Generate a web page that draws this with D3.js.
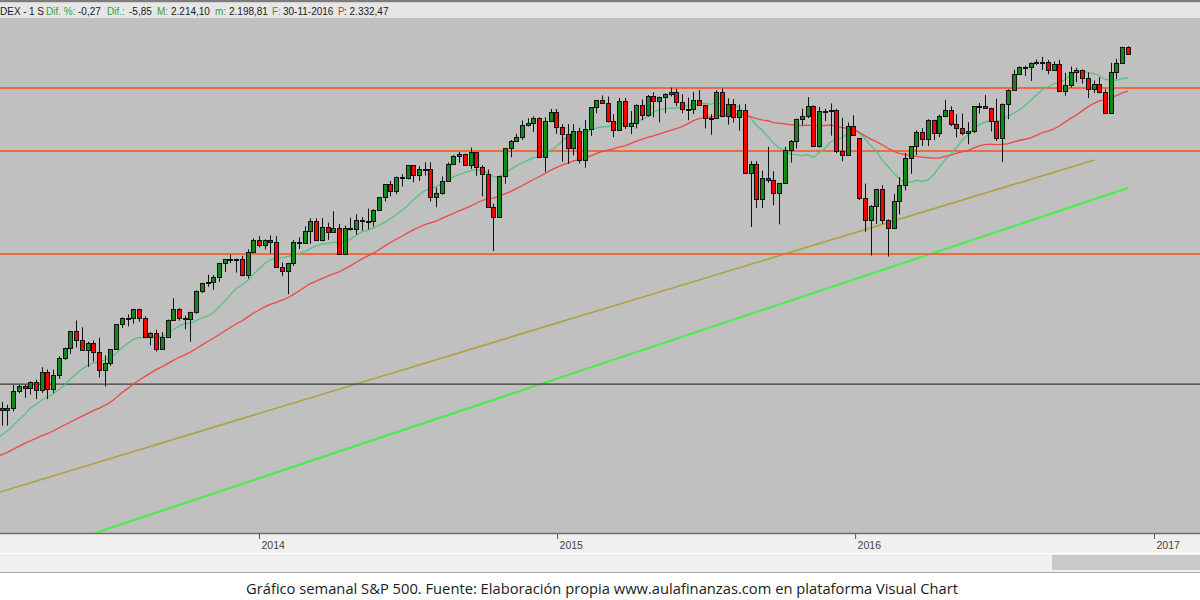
<!DOCTYPE html>
<html><head><meta charset="utf-8">
<script src="https://cdn.jsdelivr.net/npm/d3@7"></script>
<style>body{margin:0;background:#fff;} svg{display:block}</style>
</head><body>
<svg id="chart" width="1200" height="600"></svg>
<script>
// ---------------- DATA ----------------
// weekly S&P 500 candles, first visible week starts Monday 2013-02-18
const firstWeekMonday = "2013-02-18";
// closes of the weeks before the first visible candle (May 2012 - Feb 2013), for the moving averages
const warmupCloses = [1317.8,1278.0,1325.7,1342.8,1335.0,1362.2,
  1354.7,1356.8,1362.7,1386.0,1391.0,1405.9,1418.2,1411.1,1406.6,1437.9,
  1465.8,1460.2,1440.7,1460.9,1428.6,1433.2,1411.9,1414.2,1379.9,1359.9,
  1409.2,1416.2,1418.1,1413.6,1430.2,1402.4,1466.5,1472.1,1486.0,1503.0,
  1513.2,1517.9,1519.8];

const open = [
  // 2013
  1519.8,1515.6,1518.2,1551.2,1560.7,1556.9,1569.2,1553.3,1588.9,1555.3,
  1582.2,1614.4,1633.7,1667.5,1649.6,1630.7,1643.4,1626.7,1592.4,1606.3,
  1631.9,1680.2,1692.1,1691.7,1709.7,1691.4,1655.8,1663.5,1633.0,1655.2,
  1688.0,1709.9,1691.8,1690.5,1703.2,1744.5,1759.8,1761.6,1770.6,1798.2,
  1804.8,1805.8,1805.1,1775.3,1818.3,
  // 2014
  1841.4,1831.4,1842.4,1838.7,1790.3,1782.6,1797.0,1838.6,1836.3,1859.5,
  1878.0,1841.1,1866.5,1857.6,1865.1,1815.7,1864.9,1863.4,1881.1,1878.5,
  1877.9,1900.5,1923.6,1949.4,1936.2,1962.9,1961.0,1985.4,1967.6,1978.2,
  1978.3,1925.2,1931.6,1955.1,1988.4,2003.4,2007.7,1985.5,2010.4,1982.9,
  1967.9,1906.1,1886.8,1964.6,2018.0,2031.9,2039.8,2063.5,2067.6,2075.4,
  2002.3,2070.7,
  // 2015
  2088.8,2058.2,2044.8,2019.4,2051.8,1995.0,2055.5,2097.0,2110.3,2104.5,
  2071.3,2053.4,2108.1,2061.0,2067.0,2102.1,2081.2,2117.7,2108.3,2116.1,
  2122.7,2126.1,2107.4,2092.8,2094.1,2110.0,2101.5,2076.8,2076.6,2126.6,
  2079.7,2103.8,2077.6,2091.5,1970.9,1988.9,1921.2,1961.0,1958.0,1931.3,
  1951.4,2014.9,2033.1,2075.1,2079.4,2099.2,2023.0,2089.2,2090.1,2091.7,
  2012.4,2005.6,2061.0,
  // 2016
  2038.2,1922.0,1880.3,1906.9,1940.2,1880.0,1864.8,1917.8,1948.1,2000.0,
  2022.2,2049.6,2035.9,2072.8,2047.6,2080.7,2091.6,2065.3,2057.1,2046.6,
  2052.3,2099.1,2099.1,2096.1,2071.2,2037.4,2103.0,2129.9,2161.7,2175.0,
  2173.6,2182.9,2184.0,2183.9,2169.0,2180.0,2127.8,2139.2,2164.7,2168.3,
  2153.7,2133.0,2141.2,2126.4,2085.2,2164.5,2181.9,2213.4];

const high = [
  // 2013
  1530.9,1525.3,1563.3,1563.6,1564.0,1570.3,1573.7,1597.4,1593.0,1592.6,
  1618.5,1635.0,1667.5,1687.2,1674.2,1646.5,1648.7,1654.2,1620.1,1632.1,
  1680.2,1693.1,1698.8,1709.7,1709.7,1695.0,1664.9,1669.5,1664.8,1689.0,
  1729.9,1711.0,1696.5,1704.0,1745.0,1759.8,1775.2,1774.5,1798.2,1804.8,
  1813.5,1806.0,1811.5,1823.8,1844.9,
  // 2014
  1849.4,1843.2,1850.8,1849.3,1798.8,1798.0,1841.6,1846.9,1867.9,1883.6,
  1883.6,1883.9,1875.2,1897.3,1872.6,1869.6,1884.9,1891.3,1886.0,1902.2,
  1901.3,1924.0,1949.4,1955.6,1963.9,1968.2,1985.6,1985.6,1983.9,1991.4,
  1991.4,1942.9,1964.0,1991.0,2005.0,2011.2,2008.0,2019.3,2010.4,1985.2,
  1977.4,1912.0,1965.3,2018.2,2034.3,2046.2,2071.5,2075.8,2079.5,2077.8,
  2077.9,2093.6,
  // 2015
  2093.6,2064.4,2064.4,2064.6,2057.6,2072.4,2097.0,2110.6,2119.6,2117.5,
  2083.5,2114.9,2114.9,2089.8,2102.6,2111.9,2120.5,2125.9,2117.7,2123.9,
  2134.7,2132.2,2121.9,2115.4,2126.6,2129.9,2101.5,2083.7,2129.6,2132.8,
  2114.2,2112.7,2102.5,2103.5,1993.5,1993.5,1975.0,2020.9,1974.0,1951.4,
  2020.9,2034.0,2075.1,2094.3,2116.5,2100.7,2097.9,2094.1,2104.3,2093.8,
  2076.7,2067.7,2081.6,
  // 2016
  2038.2,1950.3,1908.9,1940.2,1947.2,1881.6,1930.7,1962.9,2009.1,2022.5,
  2052.4,2056.6,2074.0,2073.0,2083.0,2111.1,2099.1,2083.4,2084.9,2068.2,
  2099.1,2105.3,2120.6,2096.1,2113.3,2104.1,2131.7,2169.1,2175.6,2177.1,
  2182.9,2188.5,2193.8,2187.9,2184.9,2187.9,2163.3,2175.3,2172.7,2169.6,
  2163.9,2148.4,2154.8,2131.8,2182.3,2189.9,2213.4,2214.1];

const low = [
  // 2013
  1485.0,1485.0,1512.3,1547.4,1538.6,1545.1,1536.0,1548.0,1536.0,1548.0,
  1575.0,1611.0,1623.0,1635.5,1630.5,1598.2,1608.1,1577.7,1560.3,1600.0,
  1631.0,1673.0,1676.0,1681.0,1684.9,1654.2,1639.4,1627.5,1633.0,1655.2,
  1687.0,1687.1,1670.4,1646.5,1700.0,1740.0,1752.0,1746.2,1761.6,1780.5,
  1797.5,1779.1,1772.3,1767.9,1818.3,
  // 2014
  1827.7,1823.7,1815.8,1790.0,1772.3,1737.9,1791.8,1824.6,1834.4,1834.4,
  1839.6,1839.5,1842.1,1856.7,1814.4,1815.7,1859.7,1851.9,1859.8,1862.4,
  1868.1,1900.5,1915.9,1925.8,1930.0,1944.7,1958.2,1952.9,1955.6,1965.8,
  1916.0,1904.8,1928.9,1955.1,1988.4,1990.0,1985.2,1978.5,1965.2,1926.0,
  1905.0,1820.7,1886.8,1950.0,2001.0,2030.4,2034.5,2060.0,2049.6,2002.3,
  1972.6,2069.2,
  // 2015
  2046.1,1992.4,1988.1,2004.5,1989.2,1980.9,2041.9,2085.4,2103.8,2067.3,
  2039.7,2052.1,2055.4,2045.5,2056.3,2072.4,2079.0,2077.5,2067.9,2085.6,
  2117.9,2099.1,2085.7,2072.1,2084.0,2101.0,2056.3,2044.0,2076.6,2077.9,
  2063.5,2067.9,2052.1,1970.9,1867.0,1903.1,1903.4,1952.0,1908.8,1871.9,
  1951.4,1990.7,2018.0,2063.0,2076.0,2022.0,2019.4,2070.3,2042.4,2008.9,
  1993.3,2005.0,2043.6,
  // 2016
  1918.5,1857.8,1812.3,1872.7,1872.7,1810.1,1864.8,1891.0,1937.1,1969.3,
  2005.1,2022.5,2022.5,2033.8,2039.7,2077.5,2060.6,2039.5,2043.1,2025.9,
  2047.3,2085.1,2094.1,2050.4,2032.1,1991.7,2074.0,2128.8,2159.0,2157.1,
  2147.6,2178.3,2168.5,2160.4,2168.2,2127.8,2119.1,2134.7,2145.2,2142.6,
  2114.7,2124.4,2123.5,2083.8,2084.9,2151.2,2181.9,2198.8];

const close = [
  // 2013
  1515.6,1518.2,1551.2,1560.7,1556.9,1569.2,1553.3,1588.9,1555.3,1582.2,
  1614.4,1633.7,1667.5,1649.6,1630.7,1643.4,1626.7,1592.4,1606.3,1631.9,
  1680.2,1692.1,1691.7,1709.7,1691.4,1655.8,1663.5,1633.0,1655.2,1688.0,
  1709.9,1691.8,1690.5,1703.2,1744.5,1759.8,1761.6,1770.6,1798.2,1804.8,
  1805.8,1805.1,1775.3,1818.3,1841.4,
  // 2014
  1831.4,1842.4,1838.7,1790.3,1782.6,1797.0,1838.6,1836.3,1859.5,1878.0,
  1841.1,1866.5,1857.6,1865.1,1815.7,1864.9,1863.4,1881.1,1878.5,1877.9,
  1900.5,1923.6,1949.4,1936.2,1962.9,1961.0,1985.4,1967.6,1978.2,1978.3,
  1925.2,1931.6,1955.1,1988.4,2003.4,2007.7,1985.5,2010.4,1982.9,1967.9,
  1906.1,1886.8,1964.6,2018.0,2031.9,2039.8,2063.5,2067.6,2075.4,2002.3,
  2070.7,2088.8,
  // 2015
  2058.2,2044.8,2019.4,2051.8,1995.0,2055.5,2097.0,2110.3,2104.5,2071.3,
  2053.4,2108.1,2061.0,2067.0,2102.1,2081.2,2117.7,2108.3,2116.1,2122.7,
  2126.1,2107.4,2092.8,2094.1,2110.0,2101.5,2076.8,2076.6,2126.6,2079.7,
  2103.8,2077.6,2091.5,1970.9,1988.9,1921.2,1961.0,1958.0,1931.3,1951.4,
  2014.9,2033.1,2075.1,2079.4,2099.2,2023.0,2089.2,2090.1,2091.7,2012.4,
  2005.6,2061.0,2043.9,
  // 2016
  1922.0,1880.3,1906.9,1940.2,1880.0,1864.8,1917.8,1948.1,2000.0,2022.2,
  2049.6,2035.9,2072.8,2047.6,2080.7,2091.6,2065.3,2057.1,2046.6,2052.3,
  2099.1,2099.1,2096.1,2071.2,2037.4,2103.0,2129.9,2161.7,2175.0,2173.6,
  2182.9,2184.0,2183.9,2169.0,2180.0,2127.8,2139.2,2164.7,2168.3,2153.7,
  2133.0,2141.2,2126.4,2085.2,2164.5,2181.9,2213.4,2198.8];

const yearTicks = ["2014", "2015", "2016", "2017"];
const maPeriods = [13, 35];                  // green, red (weeks)
const resistanceLevels = [2134, 2013, 1815]; // orange horizontal lines
const referenceLevels = [1565];              // dark horizontal line
const oliveTrendDates = ["2013-02-18", "2016-10-20"];
const oliveTrendPrices = [1357.6, 1995.6];
const greenTrendDates = ["2013-06-14", "2016-11-30"];
const greenTrendPrices = [1278.8, 1941.8];
const headerTokens = ["DEX -", "1 S", "Dif. %:", "-0,27", "Dif.:", "-5,85", "M:", "2.214,10", "m:", "2.198,81", "F:", "30-11-2016", "P", ": 2.332,47"];
const headerKinds  = ["t", "t", "l", "t", "l", "t", "l", "t", "l", "t", "l", "t", "p", "t"];
const caption = "Gráfico semanal S&P 500. Fuente: Elaboración propia www.aulafinanzas.com en plataforma Visual Chart";

// ---------------- LAYOUT ----------------
const W = 1200, H = 600;
const plotTop = 18, plotBottom = 533;
const svg = d3.select("#chart");
const parse = d3.utcParse("%Y-%m-%d");

const x = d3.scaleUtc()
  .domain([parse("2014-01-01"), parse("2017-01-01")])
  .range([259, 1154]);
const y = d3.scaleLinear().domain([1815, 2134]).range([254, 88]);

const start = parse(firstWeekMonday);
const candles = close.map((c, i) => ({
  date: d3.utcDay.offset(start, 7 * i + 2),
  o: open[i], h: high[i], l: low[i], c: c
}));

// backgrounds
svg.append("rect").attr("width", W).attr("height", H).attr("fill", "#ffffff");
svg.append("rect").attr("x", 0).attr("y", 0).attr("width", W).attr("height", 2.5).attr("fill", "#7c7c7c");
svg.append("rect").attr("x", 0).attr("y", 2.5).attr("width", W).attr("height", 15.5).attr("fill", "#e6e6e6");
svg.append("rect").attr("x", 0).attr("y", plotTop).attr("width", W).attr("height", plotBottom - plotTop).attr("fill", "#c0c0c0");
// axis strips
svg.append("rect").attr("x", 0).attr("y", plotBottom).attr("width", W).attr("height", 39).attr("fill", "#f0f0f0");
svg.append("line").attr("x1", 0).attr("x2", W).attr("y1", plotBottom + 0.5).attr("y2", plotBottom + 0.5).attr("stroke", "#6e6e6e").attr("stroke-width", 1.5);
svg.append("line").attr("x1", 0).attr("x2", W).attr("y1", 553.5).attr("y2", 553.5).attr("stroke", "#ffffff").attr("stroke-width", 1);
svg.append("rect").attr("x", 1052).attr("y", 555).attr("width", 148).attr("height", 15).attr("fill", "#c9c9c9");
svg.append("line").attr("x1", 0).attr("x2", W).attr("y1", 572.5).attr("y2", 572.5).attr("stroke", "#a8a8a8").attr("stroke-width", 1);

// header (one text element, tokens placed like the reference)
const headerX = [0, 29, 46, 78, 107, 129, 157, 171, 215, 229, 272, 283, 338, 344];
const header = svg.append("text").attr("y", 14.5)
  .style("font-family", "'Liberation Sans', Arial, sans-serif").style("font-size", "10px");
headerTokens.forEach((t, i) => {
  header.append("tspan").attr("x", headerX[i]).text(t)
    .attr("fill", headerKinds[i] === "l" ? "#3a9a3a" : headerKinds[i] === "p" ? "#ff2222" : "#1a1a1a");
});

// clip
svg.append("clipPath").attr("id", "plotClip").append("rect")
  .attr("x", 0).attr("y", plotTop).attr("width", W).attr("height", plotBottom - plotTop);
const plot = svg.append("g").attr("clip-path", "url(#plotClip)");

// trend lines
const trendLine = d3.line().x(d => x(d[0])).y(d => y(d[1]));
plot.append("path")
  .attr("d", trendLine(oliveTrendDates.map((d, i) => [parse(d), oliveTrendPrices[i]])))
  .attr("fill", "none").attr("stroke", "#aca23e").attr("stroke-width", 1.6);
plot.append("path")
  .attr("d", trendLine(greenTrendDates.map((d, i) => [parse(d), greenTrendPrices[i]])))
  .attr("fill", "none").attr("stroke", "#44ee44").attr("stroke-width", 2);

// horizontal levels
plot.selectAll(".res").data(resistanceLevels).join("line")
  .attr("x1", 0).attr("x2", W)
  .attr("y1", d => y(d)).attr("y2", d => y(d))
  .attr("stroke", "#ee6a44").attr("stroke-width", 2);
plot.selectAll(".ref").data(referenceLevels).join("line")
  .attr("x1", 0).attr("x2", W)
  .attr("y1", d => y(d)).attr("y2", d => y(d))
  .attr("stroke", "#3c3c3c").attr("stroke-width", 1.3);

// moving averages
const allClose = warmupCloses.concat(close);
const nW = warmupCloses.length;
function sma(n) {
  const out = [];
  for (let j = n - 1; j < allClose.length; j++) {
    let s = 0;
    for (let k = j - n + 1; k <= j; k++) s += allClose[k];
    out.push({ date: d3.utcDay.offset(start, 7 * (j - nW) + 2), v: s / n });
  }
  return out;
}
const maColors = ["#52c47c", "#f04646"];
const maLine = d3.line().x(d => x(d.date)).y(d => y(d.v));
maPeriods.forEach((p, i) => {
  plot.append("path").attr("d", maLine(sma(p)))
    .attr("fill", "none").attr("stroke", maColors[i]).attr("stroke-width", 1.3);
});

// candles
const cg = plot.append("g");
const cx = d => Math.round(x(d.date));
cg.selectAll(".wick").data(candles).join("line")
  .attr("x1", d => cx(d) + 0.5).attr("x2", d => cx(d) + 0.5)
  .attr("y1", d => y(d.h)).attr("y2", d => y(d.l))
  .attr("stroke", "#111").attr("stroke-width", 1);
cg.selectAll(".body").data(candles).join("rect")
  .attr("x", d => cx(d) - 1.5)
  .attr("y", d => Math.round(y(Math.max(d.o, d.c))) + 0.5)
  .attr("width", 4)
  .attr("height", d => Math.max(1, Math.round(y(Math.min(d.o, d.c))) - Math.round(y(Math.max(d.o, d.c)))))
  .attr("fill", d => d.c >= d.o ? "#12891a" : "#ff0000")
  .attr("stroke", "#111").attr("stroke-width", 1);

// axis
const axisG = svg.append("g").attr("transform", `translate(0,${plotBottom})`)
  .call(d3.axisBottom(x).tickValues(yearTicks.map(t => parse(t + "-01-01"))).tickSize(6).tickFormat(d3.utcFormat("%Y")));
axisG.select(".domain").remove();
axisG.selectAll(".tick line").attr("stroke", "#555").attr("y1", 1);
axisG.selectAll(".tick text").attr("x", 2).attr("y", 9).attr("text-anchor", "start")
  .attr("fill", "#444").style("font-family", "'Liberation Sans', Arial, sans-serif").style("font-size", "10.5px");

// caption
svg.append("text").attr("x", 602).attr("y", 594).attr("text-anchor", "middle")
  .attr("textLength", 712).attr("lengthAdjust", "spacingAndGlyphs")
  .style("font-family", "'Open Sans', 'Noto Sans', sans-serif").style("font-size", "14px")
  .attr("fill", "#1a1a1a").text(caption);
</script>
</body></html>
